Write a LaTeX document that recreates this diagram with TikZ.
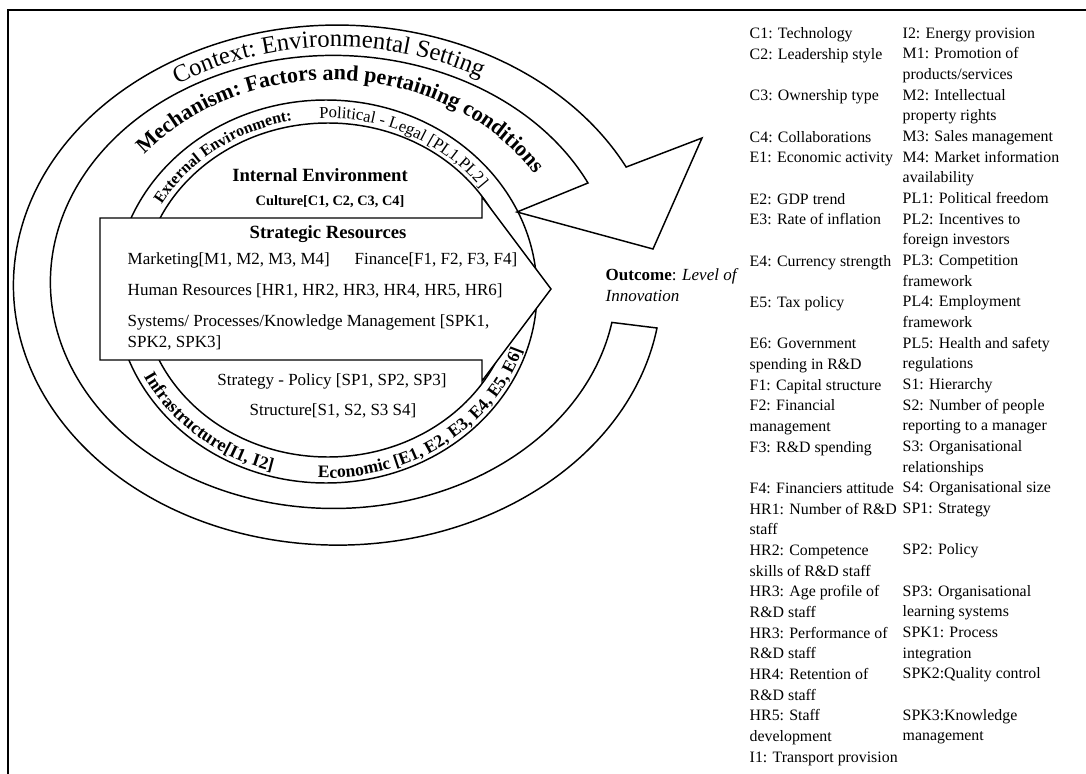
\documentclass[tikz,border=0pt]{standalone}
\usepackage{fontspec}
\setmainfont{Liberation Serif}
\usepackage{tikz}
\usetikzlibrary{decorations.text}

\begin{document}
\begin{tikzpicture}[x=0.75pt, y=-0.75pt, line width=1.1pt,
  txt/.style={font=\fontsize{12.75}{15.5}\selectfont, inner sep=0pt},
  hdr/.style={font=\bfseries\fontsize{14}{16}\selectfont, inner sep=0pt},
  keycol/.style={font=\fontsize{11.9}{15.5}\selectfont, inner sep=0pt, align=left, anchor=north west},
  arclbl/.style={decorate, decoration={text along path, text align=center, text={#1}}}]
\useasboundingbox (0,0) rectangle (1086,774);
\draw[line width=1.6pt] (8,774) -- (8,10) -- (1086,10);

%context ring, ends in the arrow head
\draw[fill=white] (657,328) arc[start angle=9.5, end angle=333, x radius=324, y radius=260]
  -- (702,138) -- (653,249) -- (517,212) -- (588,183)
  arc[start angle=334.1, end angle=10.3, x radius=283, y radius=226.5] -- cycle;
%external environment ring
\draw (326,291.5) ellipse[x radius=211, y radius=191.5];
\draw (328,290) ellipse[x radius=186, y radius=167];
%strategic resources arrow
\draw[fill=white] (100,218) -- (482,218) -- (482,197) -- (551,289) -- (482,381) -- (482,360) -- (100,360) -- cycle;

%ring labels
\path[arclbl={|\fontsize{18.5}{20}\selectfont|Context: Environmental Setting}]
  ([shift={(198.2:294 and 236)}]336,283) arc[start angle=198.2, end angle=338.2, x radius=294, y radius=236];
\path[arclbl={|\bfseries\fontsize{16.5}{18}\selectfont|Mechanism: Factors and pertaining conditions}]
  ([shift={(203.5:243 and 207)}]331,287) arc[start angle=203.5, end angle=343.5, x radius=243, y radius=207];
\path[arclbl={|\bfseries\fontsize{12}{14}\selectfont|External Environment:}]
  ([shift={(199.4:191 and 173)}]327,291) arc[start angle=199.4, end angle=269.4, x radius=191, y radius=173];
\path[arclbl={|\fontsize{12.5}{14}\selectfont|Political - Legal [PL1,PL2]}]
  ([shift={(258:191 and 173)}]327,291) arc[start angle=258, end angle=334, x radius=191, y radius=173];
\path[arclbl={|\bfseries\fontsize{13.5}{16}\selectfont|Infrastructure[I1, I2]}]
  ([shift={(169.8:206 and 187)}]327,291) arc[start angle=169.8, end angle=89.8, x radius=206, y radius=187];
\path[arclbl={|\bfseries\fontsize{13.2}{16}\selectfont|Economic [E1, E2, E3, E4, E5, E6]}]
  ([shift={(104.9:206 and 187)}]327,291) arc[start angle=104.9, end angle=4.9, x radius=206, y radius=187];

%internal environment
\node[hdr, anchor=base] (intenv) at (320,181) {Internal Environment};
\node[inner sep=0pt, font=\bfseries\fontsize{10.75}{13}\selectfont, anchor=base] (culture) at (330,205.5) {Culture[C1, C2, C3, C4]};
\node[hdr, anchor=base] (strat) at (328,238) {Strategic Resources};
\node[txt, anchor=base west] (mkt) at (127,264) {Marketing[M1, M2, M3, M4]};
\node[txt, anchor=base west] (fin) at (354,264) {Finance[F1, F2, F3, F4]};
\node[txt, anchor=base west] (hr) at (127,295) {Human Resources [HR1, HR2, HR3, HR4, HR5, HR6]};
\node[txt, anchor=base west, align=left] (spk) at (127,347) {Systems/ Processes/Knowledge Management [SPK1,\\SPK2, SPK3]};
\node[txt, anchor=base] (sp) at (332,385) {Strategy - Policy [SP1, SP2, SP3]};
\node[txt, anchor=base] (struct) at (333,415) {Structure[S1, S2, S3 S4]};

%outcome
\node[txt, anchor=north west, align=left] (outcome) at (605,268) {\textbf{Outcome}: \textit{Level of}\\\textit{Innovation}};

%key
\node[keycol] (keyl) at (749,27) {C1: Technology\\C2: Leadership style\\\mbox{}\\C3: Ownership type\\\mbox{}\\
C4: Collaborations\\E1: Economic activity\\\mbox{}\\E2: GDP trend\\E3: Rate of inflation\\\mbox{}\\
E4: Currency strength\\\mbox{}\\E5: Tax policy\\\mbox{}\\E6: Government\\spending in R\&D\\
F1: Capital structure\\F2: Financial\\management\\F3: R\&D spending\\\mbox{}\\F4: Financiers attitude\\
HR1: Number of R\&D\\staff\\HR2: Competence\\skills of R\&D staff\\HR3: Age profile of\\R\&D staff\\
HR3: Performance of\\R\&D staff\\HR4: Retention of\\R\&D staff\\HR5: Staff\\development\\I1: Transport provision};
\node[keycol] (keyr) at (902,27) {I2: Energy provision\\M1: Promotion of\\products/services\\M2: Intellectual\\property rights\\
M3: Sales management\\M4: Market information\\availability\\PL1: Political freedom\\PL2: Incentives to\\foreign investors\\
PL3: Competition\\framework\\PL4: Employment\\framework\\PL5: Health and safety\\regulations\\S1: Hierarchy\\
S2: Number of people\\reporting to a manager\\S3: Organisational\\relationships\\S4: Organisational size\\
SP1: Strategy\\\mbox{}\\SP2: Policy\\\mbox{}\\SP3: Organisational\\learning systems\\SPK1: Process\\integration\\
SPK2:Quality control\\\mbox{}\\SPK3:Knowledge\\management};
\end{tikzpicture}
\end{document}
